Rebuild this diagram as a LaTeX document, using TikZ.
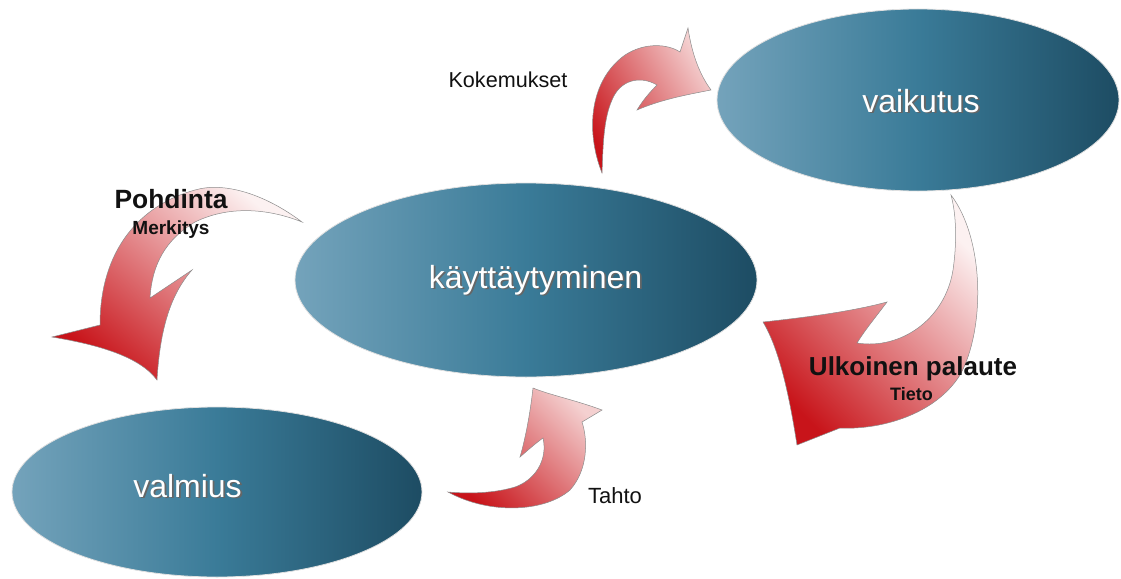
\documentclass[tikz,border=0pt]{standalone}
\usepackage{fontspec}
\setmainfont{Liberation Sans}
\usetikzlibrary{shapes.geometric}

\definecolor{blueL}{HTML}{74A3BB}
\definecolor{blueM}{HTML}{3A7B98}
\definecolor{blueD}{HTML}{1D4C63}
\definecolor{redD}{HTML}{C8141A}
\definecolor{redP}{HTML}{F4D0D0}
\definecolor{redW}{HTML}{FCF1F1}
\definecolor{inkc}{HTML}{111111}

% white lettering with a soft drop shadow
\newcommand\shadowed[1]{\leavevmode\rlap{\hspace{1.8pt}\raisebox{-1.8pt}{\color{black!60}#1}}#1}

\begin{document}
\begin{tikzpicture}[x=1pt,y=-1pt,
  bubble/.style={ellipse, inner sep=0pt, draw=black!12, line width=0.8pt,
    left color=blueL, right color=blueD, middle color=blueM},
  bubbletext/.style={anchor=base, inner sep=0pt, text=white,
    font=\fontsize{32}{36}\selectfont},
  swoosh/.style={draw=black!45, line width=0.5pt},
  thinlabel/.style={anchor=base, inner sep=0pt, text=inkc},
  boldlabel/.style={anchor=base, inner sep=0pt, text=inkc}]

\useasboundingbox (0,0) rectangle (1121,578);

% --- curved block arrows (drawn first, the ellipses sit on top) ---
% Pohdinta / Merkitys: from behaviour down to readiness
\shade[swoosh, top color=redW, bottom color=redD, shading angle=-40]
  (302,222) .. controls (262,192) and (222,182) .. (195,190)
  .. controls (140,205) and (100,250) .. (100,325)
  -- (52,337)
  .. controls (100,345) and (140,357) .. (157,380)
  .. controls (160,330) and (170,295) .. (192,270)
  -- (150,298)
  .. controls (152,265) and (165,240) .. (195,222)
  .. controls (232,204) and (272,210) .. (302,222) -- cycle;

% Kokemukset: from behaviour up to effect
\shade[swoosh, top color=redP, bottom color=redD, shading angle=-60]
  (602,173) .. controls (585,130) and (590,80) .. (625,55)
  .. controls (645,42) and (668,44) .. (680,52)
  -- (688,28)
  .. controls (692,55) and (700,75) .. (711,90)
  .. controls (685,95) and (660,100) .. (637,110)
  .. controls (643,100) and (650,92) .. (657,85)
  .. controls (640,75) and (620,80) .. (612,100)
  .. controls (603,120) and (603,150) .. (602,173) -- cycle;

% Ulkoinen palaute / Tieto: from effect back to behaviour
\shade[swoosh, top color=redW, bottom color=redD, shading angle=-45]
  (951,195) .. controls (985,240) and (985,330) .. (960,375)
  .. controls (935,415) and (880,430) .. (840,428)
  -- (797,445)
  .. controls (790,400) and (780,350) .. (763,322)
  .. controls (800,318) and (850,312) .. (887,302)
  .. controls (875,318) and (865,330) .. (857,343)
  .. controls (900,350) and (945,320) .. (953,270)
  .. controls (958,235) and (955,210) .. (951,195) -- cycle;

% Tahto: from readiness up to behaviour
\shade[swoosh, top color=redP, bottom color=redD, shading angle=-45]
  (448,492) .. controls (490,515) and (545,512) .. (570,490)
  .. controls (588,470) and (588,440) .. (582,422)
  -- (602,410)
  .. controls (575,400) and (550,395) .. (533,388)
  .. controls (530,415) and (525,440) .. (520,457)
  .. controls (528,450) and (536,443) .. (543,438)
  .. controls (548,460) and (535,480) .. (515,487)
  .. controls (495,493) and (470,494) .. (448,492) -- cycle;

% --- ellipses ---
\node[bubble, minimum width=462pt, minimum height=194pt] (kaytt) at (526,280) {};
\node[bubble, minimum width=402pt, minimum height=182pt] (vaik) at (918,100) {};
\node[bubble, minimum width=410pt, minimum height=170pt] (valm) at (217,492) {};

\node[bubbletext] (kayttT) at (535.5,288) {\shadowed{käyttäytyminen}};
\node[bubbletext] (vaikT) at (921,112) {\shadowed{vaikutus}};
\node[bubbletext] (valmT) at (187.5,497) {\shadowed{valmius}};

% --- arrow labels ---
\node[boldlabel, font=\bfseries\fontsize{26.4}{30}\selectfont] (pohd) at (171,208) {Pohdinta};
\node[boldlabel, font=\bfseries\fontsize{19}{22}\selectfont] (merk) at (171,234) {Merkitys};
\node[thinlabel, font=\fontsize{21.6}{25}\selectfont] (koke) at (508,87) {Kokemukset};
\node[thinlabel, font=\fontsize{22}{25}\selectfont] (tahto) at (615,503) {Tahto};
\node[boldlabel, font=\bfseries\fontsize{26}{30}\selectfont] (ulko) at (913,375) {Ulkoinen palaute};
\node[boldlabel, font=\bfseries\fontsize{18}{21}\selectfont] (tieto) at (911.5,400) {Tieto};

\end{tikzpicture}
\end{document}
